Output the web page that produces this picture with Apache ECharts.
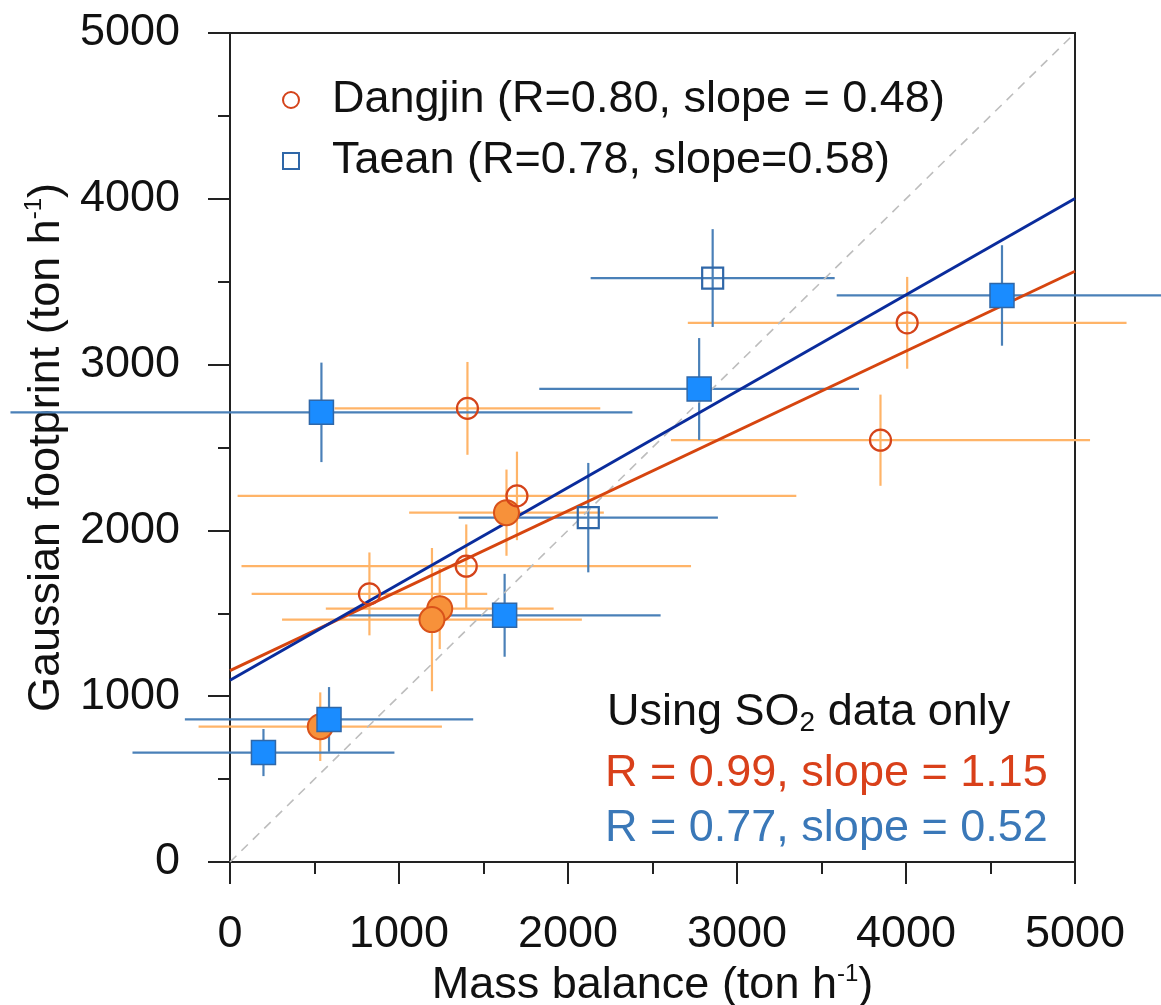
<!DOCTYPE html>
<html>
<head>
<meta charset="utf-8">
<script src="https://cdn.jsdelivr.net/npm/echarts@6/dist/echarts.min.js"></script>
<style>
  html, body { margin: 0; padding: 0; background: #fff; }
  #main { width: 1161px; height: 1005px; }
</style>
</head>
<body>
<div id="main"></div>
<script>
// [x, y, xErr, yErr]  (ton/h)
var dangjinOpen = [
    [1405, 2736, 786, 280],
    [1698, 2208, 1653, 267],
    [1398, 1784, 1330, 252],
    [825, 1617, 697, 250],
    [4007, 3252, 1298, 277],
    [3849, 2544, 1240, 275]
];
var dangjinFilled = [
    [1636, 2107, 576, 260],
    [1241, 1528, 674, 244],
    [1195, 1462, 887, 432],
    [534, 816, 720, 207]
];
var taeanFilled = [
    [541, 2712, 1840, 300],
    [1625, 1488, 923, 250],
    [586, 860, 853, 195],
    [198, 660, 775, 142],
    [2776, 2853, 946, 307],
    [4568, 3417, 978, 303]
];
var taeanOpen = [
    [2120, 2077, 767, 330],
    [2856, 3522, 722, 295]
];
// fit lines
var dangjinFit = [[0, 1154], [5000, 3563]];
var taeanFit = [[0, 1096], [5000, 4002]];
var oneToOne = [[0, 0], [5000, 5000]];

var axisTicks = [0, 1000, 2000, 3000, 4000, 5000];
var legendNames = ['Dangjin (R=0.80, slope = 0.48)', 'Taean (R=0.78, slope=0.58)'];

var FONT = 'Liberation Sans, Arial, Helvetica, sans-serif';
var RED = '#d4431a';
var ORANGE_BAR = '#ffb468';
var BLUE_BAR = '#4a80b8';
var BLUE_EDGE = '#2f67a8';
var CLEAR = 'rgba(255,255,255,0)';

function errorBars(color) {
    return function (params, api) {
        var x = api.value(0), y = api.value(1), ex = api.value(2), ey = api.value(3);
        var l = api.coord([x - ex, y]), r = api.coord([x + ex, y]);
        var b = api.coord([x, y - ey]), t = api.coord([x, y + ey]);
        var st = { stroke: color, lineWidth: 2.2 };
        return {
            type: 'group',
            children: [
                { type: 'line', shape: { x1: l[0], y1: l[1], x2: r[0], y2: r[1] }, style: st },
                { type: 'line', shape: { x1: b[0], y1: b[1], x2: t[0], y2: t[1] }, style: st }
            ]
        };
    };
}

var chart = echarts.init(document.getElementById('main'), null, { renderer: 'canvas' });

var axisCommon = {
    type: 'value',
    min: axisTicks[0],
    max: axisTicks[axisTicks.length - 1],
    interval: 1000,
    nameLocation: 'middle',
    nameTextStyle: {
        fontFamily: FONT, fontSize: 45, color: '#111',
        rich: { sup: { fontFamily: FONT, fontSize: 24, color: '#111', padding: [0, 0, 24, 0] } }
    },
    axisLine: { show: true, onZero: false, lineStyle: { color: '#222', width: 2 } },
    axisTick: { show: true, inside: false, length: 22, lineStyle: { color: '#222', width: 2 } },
    minorTick: { show: true, splitNumber: 2, length: 12, lineStyle: { color: '#222', width: 2 } },
    axisLabel: {
        fontFamily: FONT, fontSize: 45, color: '#111', margin: 50,
        formatter: function (v) { return String(v); }
    },
    splitLine: { show: false },
    minorSplitLine: { show: false }
};

var option = {
    animation: false,
    backgroundColor: '#fff',
    grid: {
        left: 230, right: 86, top: 33, bottom: 143,
        outerBoundsMode: 'none',
        containLabel: false,
        show: true, borderColor: '#222', borderWidth: 2, backgroundColor: 'transparent'
    },
    xAxis: Object.assign({}, axisCommon, {
        name: 'Mass balance (ton h{sup|-1})',
        nameGap: 100
    }),
    yAxis: Object.assign({}, axisCommon, {
        name: 'Gaussian footprint (ton h{sup|-1})',
        nameGap: 147,
        nameRotate: 90
    }),
    legend: {
        data: legendNames,
        orient: 'vertical',
        left: 277,
        top: 70,
        itemWidth: 16,
        itemHeight: 16,
        itemGap: 11,
        selectedMode: false,
        textStyle: { fontFamily: FONT, fontSize: 45, color: '#111', lineHeight: 50, padding: [0, 0, 0, 28] }
    },
    graphic: [{
        type: 'text',
        left: 607,
        top: 690,
        style: {
            text: 'Using SO{sub|2} data only',
            font: '45px ' + FONT,
            fill: '#111',
            rich: { sub: { fontFamily: FONT, fontSize: 28, fill: '#111', padding: [22, 0, 0, 0] } }
        }
    }, {
        type: 'text',
        left: 605,
        top: 751,
        style: { text: 'R = 0.99, slope = 1.15', font: '45px ' + FONT, fill: '#d9401a' }
    }, {
        type: 'text',
        left: 605,
        top: 806,
        style: { text: 'R = 0.77, slope = 0.52', font: '45px ' + FONT, fill: '#3a78b8' }
    }],
    series: [
        {
            name: 'Dangjin errors',
            type: 'custom',
            clip: false,
            z: 1,
            renderItem: errorBars(ORANGE_BAR),
            data: dangjinOpen.concat(dangjinFilled)
        },
        {
            name: 'Taean errors',
            type: 'custom',
            clip: false,
            z: 1,
            renderItem: errorBars(BLUE_BAR),
            data: taeanFilled.concat(taeanOpen)
        },
        {
            name: '1:1',
            type: 'line',
            z: 2,
            symbol: 'none',
            silent: true,
            lineStyle: { color: '#bdbdbd', width: 1.6, type: [9, 7] },
            data: oneToOne
        },
        {
            name: 'Dangjin fit',
            type: 'line',
            z: 3,
            symbol: 'none',
            lineStyle: { color: '#d6450f', width: 3 },
            data: dangjinFit
        },
        {
            name: 'Taean fit',
            type: 'line',
            z: 3,
            symbol: 'none',
            lineStyle: { color: '#0a2c9c', width: 3 },
            data: taeanFit
        },
        {
            name: 'Dangjin filled',
            type: 'scatter',
            z: 4,
            symbol: 'circle',
            symbolSize: 25,
            itemStyle: { color: '#f7913a', borderColor: '#d9521a', borderWidth: 2, opacity: 1 },
            data: dangjinFilled
        },
        {
            name: legendNames[0],
            type: 'scatter',
            z: 4,
            symbol: 'circle',
            symbolSize: 21,
            itemStyle: { color: CLEAR, borderColor: RED, borderWidth: 2.2, opacity: 1 },
            data: dangjinOpen
        },
        {
            name: 'Taean filled',
            type: 'scatter',
            z: 4,
            symbol: 'rect',
            symbolSize: 24,
            itemStyle: { color: '#1a8cff', borderColor: BLUE_EDGE, borderWidth: 1.5, opacity: 1 },
            data: taeanFilled
        },
        {
            name: legendNames[1],
            type: 'scatter',
            z: 4,
            symbol: 'rect',
            symbolSize: 21,
            itemStyle: { color: CLEAR, borderColor: BLUE_EDGE, borderWidth: 2.2, opacity: 1 },
            data: taeanOpen
        }
    ]
};

chart.setOption(option);
</script>
</body>
</html>
